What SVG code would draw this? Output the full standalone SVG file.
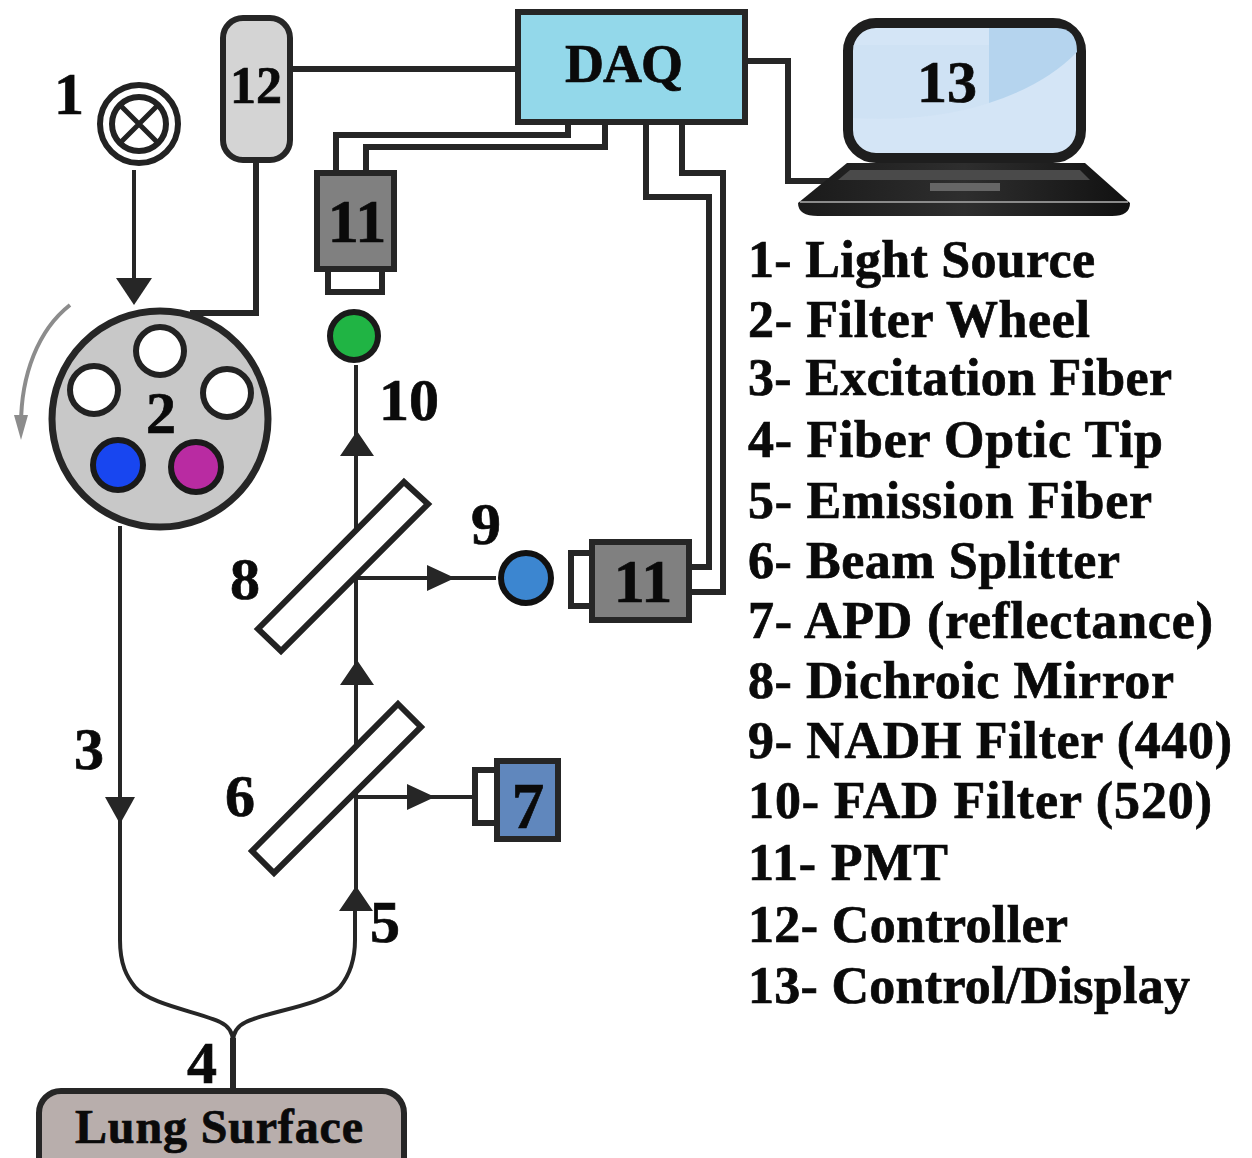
<svg xmlns="http://www.w3.org/2000/svg" width="1252" height="1158" viewBox="0 0 1252 1158">
<defs>
<linearGradient id="base" x1="0" y1="0" x2="1" y2="0"><stop offset="0" stop-color="#1a1a1a"/><stop offset="0.5" stop-color="#2e2e2e"/><stop offset="1" stop-color="#111"/></linearGradient>
</defs>
<style>
text{font-family:"Liberation Serif","Times New Roman",serif;font-weight:bold;fill:#0a0a0a;stroke:#0a0a0a;stroke-width:.7}
.n{font-size:60px;text-anchor:middle}
.l{font-size:52px}
.w{fill:none;stroke:#262626;stroke-width:6;stroke-linejoin:miter}
.t{fill:none;stroke:#262626;stroke-width:4}
.b{stroke:#222;stroke-width:6;fill:#fff}
.a{fill:#262626}
</style>
<rect width="1252" height="1158" fill="#fff"/>
<g id="connectors">
<path class="w" d="M291 69H517"/>
<path class="w" d="M745 61H788V181H830"/>
<path class="w" d="M256 162V313H190"/>
<path class="w" d="M336 172V135H568V124M366 172V147H605V124"/>
<path class="w" d="M646 124V197H709V567H690M682 124V173H723V592H690"/>
<path class="t" d="M134 170V290"/>
<path class="a" d="M116 278H152L134 305Z"/>
<path class="t" d="M120 526V940C120 965 127 977 135 987C150 1005 200 1012 220 1022Q233 1028 233 1042M355 890V940C355 962 348 977 340 987C325 1005 265 1012 246 1022Q233 1028 233 1042"/>
<path class="w" d="M233 1038V1090"/>
<path class="a" d="M105 797H135L120 824Z"/>
<path class="t" d="M356 365V890"/>
<path class="a" d="M340 456H374L357 431ZM340 685H374L357 660ZM339 911H373L356 886Z"/>
<path class="t" d="M357 578H496M356 797H472"/>
<path class="a" d="M427 565L455 578L427 591ZM407 784L435 797L407 810Z"/>
<path d="M70 305C38 330 21 375 21 425" fill="none" stroke="#8c8c8c" stroke-width="4"/>
<path d="M14 415H28L21 440Z" fill="#8c8c8c"/>
</g>
<g id="n1"><circle cx="139" cy="124" r="39" fill="#fff" stroke="#222" stroke-width="6"/><circle cx="139" cy="124" r="27" fill="#fff" stroke="#222" stroke-width="6"/><path d="M120 105L158 143M158 105L120 143" stroke="#222" stroke-width="5"/><text class="n" x="69" y="114">1</text></g>
<g id="n12"><rect x="223" y="18" width="67" height="142" rx="20" fill="#d4d4d4" stroke="#262626" stroke-width="6"/><text x="256" y="103" text-anchor="middle" style="font-size:52px">12</text></g>
<g id="daq"><rect x="518" y="12" width="227" height="110" fill="#93d8ea" stroke="#262626" stroke-width="6"/><text x="624" y="82" text-anchor="middle" style="font-size:54px" textLength="118">DAQ</text></g>
<g id="n13">
<rect x="848" y="23" width="233" height="135" rx="28" fill="#d4e5f6" stroke="#1e1e1e" stroke-width="10"/>
<path d="M989 28H1056Q1077 28 1077 52Q1045 85 989 103Z" fill="#b5d4ee"/>
<path d="M853 118Q930 122 989 103V45H853Z" fill="#c6dcf2" opacity=".35"/>
<path d="M847 163H1085L1130 203Q1130 216 1112 216H818Q798 216 798 203Z" fill="url(#base)"/>
<path d="M800 202H1128" stroke="#8a8a8a" stroke-width="2"/>
<path d="M850 170H1080L1090 180H838Z" fill="#4a4a4a"/>
<rect x="930" y="183" width="70" height="8" fill="#666"/>
<text x="947" y="102" text-anchor="middle" style="font-size:60px">13</text>
</g>
<g id="n2"><circle cx="160" cy="419" r="108" fill="#c8c8c8" stroke="#262626" stroke-width="7"/>
<circle cx="160" cy="351" r="24" class="b"/><circle cx="94" cy="390" r="24" class="b"/><circle cx="227" cy="393" r="24" class="b"/>
<circle cx="118" cy="465" r="25" fill="#1846f0" stroke="#1a1a1a" stroke-width="6"/><circle cx="196" cy="467" r="25" fill="#b92ba2" stroke="#1a1a1a" stroke-width="6"/>
<text class="n" x="161" y="433">2</text></g>
<g id="n11a"><rect x="328" y="268" width="54" height="24" fill="#fff" stroke="#262626" stroke-width="6"/><rect x="317" y="173" width="77" height="96" fill="#808080" stroke="#262626" stroke-width="6"/><text x="357" y="242" text-anchor="middle" style="font-size:62px">11</text></g>
<g id="n10"><circle cx="354" cy="336" r="24" fill="#20b444" stroke="#1a1a1a" stroke-width="6"/><text class="n" x="409" y="420">10</text></g>
<g id="n8"><path d="M404 482L428 504L281 651L258 629Z" class="b"/><text class="n" x="245" y="599">8</text></g>
<g id="n9"><circle cx="526" cy="578" r="25" fill="#3c86d0" stroke="#111" stroke-width="6"/><text class="n" x="486" y="544">9</text></g>
<g id="n11b"><rect x="571" y="553" width="26" height="53" fill="#fff" stroke="#262626" stroke-width="6"/><rect x="592" y="542" width="97" height="78" fill="#808080" stroke="#262626" stroke-width="6"/><text x="643" y="602" text-anchor="middle" style="font-size:62px">11</text></g>
<g id="n6"><path d="M398 704L421 727L274 873L252 851Z" class="b"/><text class="n" x="240" y="816">6</text></g>
<g id="n7"><rect x="475" y="770" width="26" height="53" fill="#fff" stroke="#262626" stroke-width="6"/><rect x="497" y="761" width="61" height="78" fill="#6087bd" stroke="#262626" stroke-width="6"/><text x="528" y="828" text-anchor="middle" style="font-size:65px">7</text></g>
<g id="labels"><text class="n" x="89" y="769">3</text><text class="n" x="202" y="1083">4</text><text class="n" x="385" y="942">5</text></g>
<g id="lung"><rect x="39" y="1091" width="365" height="100" rx="22" fill="#b8aeac" stroke="#262626" stroke-width="6"/><text x="219" y="1143" text-anchor="middle" style="font-size:48px" textLength="288">Lung Surface</text></g>
<g id="legend">
<text class="l" x="748" y="277" textLength="347">1- Light Source</text>
<text class="l" x="748" y="337" textLength="342">2- Filter Wheel</text>
<text class="l" x="748" y="395" textLength="424">3- Excitation Fiber</text>
<text class="l" x="748" y="457" textLength="415">4- Fiber Optic Tip</text>
<text class="l" x="748" y="518" textLength="404">5- Emission Fiber</text>
<text class="l" x="748" y="578" textLength="372">6- Beam Splitter</text>
<text class="l" x="748" y="638" textLength="465">7- APD (reflectance)</text>
<text class="l" x="748" y="698" textLength="426">8- Dichroic Mirror</text>
<text class="l" x="748" y="758" textLength="484">9- NADH Filter (440)</text>
<text class="l" x="748" y="818" textLength="464">10- FAD Filter (520)</text>
<text class="l" x="748" y="880" textLength="200">11- PMT</text>
<text class="l" x="748" y="942" textLength="320">12- Controller</text>
<text class="l" x="748" y="1003" textLength="442">13- Control/Display</text>
</g>
</svg>
